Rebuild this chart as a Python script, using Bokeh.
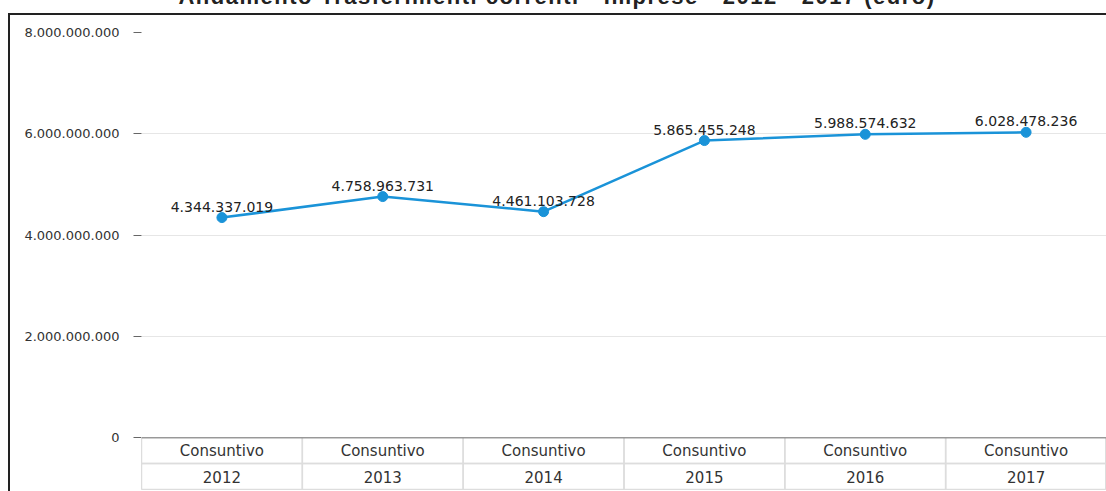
from bokeh.plotting import figure
from bokeh.models import ColumnDataSource, FactorRange, Range1d, FixedTicker, Span, Div
from bokeh.layouts import column
from bokeh.core.properties import value
from bokeh.embed import file_html
from bokeh.resources import INLINE

# ---- data ----
title = "Andamento Trasferimenti correnti - Imprese - 2012 - 2017 (euro)"
years = ["2012", "2013", "2014", "2015", "2016", "2017"]
phases = ["Consuntivo"] * 6
values = [4344337019, 4758963731, 4461103728, 5865455248, 5988574632, 6028478236]
y_ticks = [0, 2000000000, 4000000000, 6000000000, 8000000000]


def fmt(v):
    return f"{int(v):,}".replace(",", ".")


labels = [fmt(v) for v in values]
source = ColumnDataSource(dict(year=years, phase=phases, value=values, label=labels))

BLUE = "#1a93d8"
FONT = "DejaVu Sans"

# ---- main chart ----
x_range = FactorRange(factors=years)
p1 = figure(x_range=x_range, y_range=Range1d(0, 8000000000),
            width=1096, height=432, output_backend="svg", toolbar_location=None,
            x_axis_location=None,
            min_border_left=131, min_border_right=0, min_border_top=17, min_border_bottom=10)
p1.outline_line_color = None
p1.xgrid.visible = False
p1.ygrid.grid_line_color = "#e6e6e6"
p1.ygrid.grid_line_width = 1

ax = p1.yaxis[0]
ax.ticker = FixedTicker(ticks=y_ticks)
ax.major_label_overrides = {t: fmt(t) for t in y_ticks}
ax.axis_line_color = None
ax.minor_tick_line_color = None
ax.major_tick_in = 0
ax.major_tick_out = 8
ax.major_tick_line_color = "#666666"
ax.major_label_standoff = 14
ax.major_label_text_font = FONT
ax.major_label_text_font_size = "13px"
ax.major_label_text_color = "#333333"

p1.line(x="year", y="value", source=source, line_color=BLUE, line_width=2.5)
p1.scatter(x="year", y="value", source=source, size=10, fill_color=BLUE, line_color=BLUE)
p1.text(x="year", y="value", text="label", source=source,
        text_align="center", text_baseline="alphabetic", y_offset=-11,
        text_font=value(FONT), text_font_size="14px", text_color="#222222")

# ---- category table below ----
p2 = figure(x_range=x_range, y_range=Range1d(0, 2),
            width=1096, height=54, output_backend="svg", toolbar_location=None,
            x_axis_location=None, y_axis_location=None,
            min_border_left=131, min_border_right=0, min_border_top=0, min_border_bottom=2,
            margin=(-10, 0, 0, 0))
p2.grid.visible = False
p2.background_fill_color = None
p2.border_fill_color = None
p2.outline_line_color = "#dddddd"
p2.rect(x="year", y=1.5, width=1, height=1, source=source,
        fill_color=None, line_color="#dddddd", line_width=1.5)
p2.rect(x="year", y=0.5, width=1, height=1, source=source,
        fill_color=None, line_color="#dddddd", line_width=1.5)
p2.text(x="year", y=1.5, text="phase", source=source,
        text_align="center", text_baseline="middle",
        text_font=value(FONT), text_font_size="15px", text_color="#333333")
p2.text(x="year", y=0.5, text="year", source=source,
        text_align="center", text_baseline="middle",
        text_font=value(FONT), text_font_size="15px", text_color="#333333")
p2.add_layout(Span(location=2, dimension="width", line_color="#555555", line_width=1.5))

title_div = Div(
    text=f'<div style="font-family: \'Liberation Sans\', Arial, sans-serif; font-weight: bold; '
         f'font-size: 22px; letter-spacing: 1.5px; line-height: 24px; color: #222; '
         f'text-align: center; width: 1098px; white-space: nowrap;">{title}</div>',
    width=1098, height=27, margin=(-15, 0, 0, 8))

frame = column(p1, p2, spacing=0, margin=(1, 0, 0, 8),
               styles={"border-left": "2px solid #222", "border-top": "2px solid #222"})

layout = column(title_div, frame, spacing=0)

open("out.html", "w").write(file_html(layout, INLINE))
